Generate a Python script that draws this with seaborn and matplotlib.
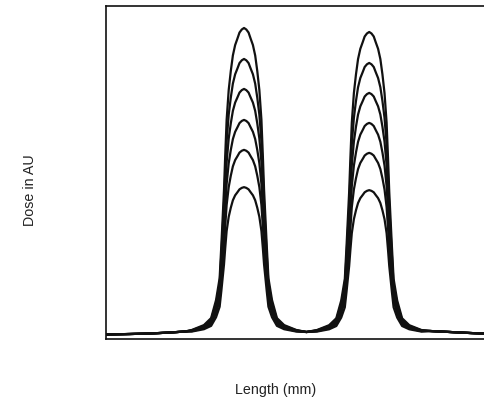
import numpy as np
import pandas as pd
import matplotlib
matplotlib.use("Agg")
import matplotlib.pyplot as plt
import seaborn as sns

# ---- data (x in mm, dose in AU) ----
# normalised peak profile (half-profile, offset from peak centre in mm -> fraction of peak)
half_offsets = [0.0, 0.6, 1.2, 1.75, 2.35, 2.95, 3.5, 4.05, 4.6, 4.98, 5.3,
                6.0, 6.45, 7.4, 8.7, 10.6, 13.8]
half_fraction = [1.0, 0.995, 0.985, 0.965, 0.944, 0.91, 0.859, 0.797, 0.699, 0.58, 0.469,
                 0.288, 0.180, 0.108, 0.049, 0.026, 0.010]
peak_centres = [36.5, 69.6]
peak_base = 1.8
left_peak_amplitudes = [91.6, 82.3, 73.3, 64.0, 55.0, 43.8]
right_peak_amplitudes = [90.4, 81.1, 72.1, 63.1, 54.1, 42.9]

left_tail_x = [0.0, 6.35, 11.64, 16.93, 20.9]
left_tail_y = [1.35, 1.5, 1.65, 1.95, 2.25]
middle_x = [53.0]
middle_y = [2.1]
right_tail_x = [85.7, 91.0, 96.3, 102.6]
right_tail_y = [2.4, 2.1, 1.8, 1.5]

# ---- build long table ----
offsets = [-o for o in half_offsets[::-1]] + half_offsets[1:]
fractions = half_fraction[::-1] + half_fraction[1:]

rows = []
for k, (a1, a2) in enumerate(zip(left_peak_amplitudes, right_peak_amplitudes)):
    xs, ys = [], []
    xs += left_tail_x; ys += left_tail_y
    xs += [peak_centres[0] + o for o in offsets]
    ys += [peak_base + a1 * f for f in fractions]
    xs += middle_x; ys += middle_y
    xs += [peak_centres[1] + o for o in offsets]
    ys += [peak_base + a2 * f for f in fractions]
    xs += right_tail_x; ys += right_tail_y
    for i, (x, y) in enumerate(zip(xs, ys)):
        rows.append({"curve": f"c{k}", "order": i, "Length": x, "Dose": y})
df = pd.DataFrame(rows)

sns.set_style("white")
plt.rcParams["font.family"] = ["Liberation Sans", "DejaVu Sans"]

fig = plt.figure(figsize=(4.84, 3.99), dpi=100)
ax = fig.add_axes([106 / 484, 60 / 399, 388 / 484, 333 / 399])

sns.lineplot(data=df, x="Length", y="Dose", hue="curve", units="curve",
             estimator=None, sort=False, palette=["#111111"] * 6,
             linewidth=1.6, legend=False, ax=ax)

ax.set_xlim(0, 102.6)
ax.set_ylim(0, 100)
ax.set_xticks([])
ax.set_yticks([])
ax.set_xlabel("")
ax.set_ylabel("")
for s in ["left", "top", "bottom", "right"]:
    ax.spines[s].set_color("#111111")
    ax.spines[s].set_linewidth(1.2)

fig.text(276 / 484, 1 - 390 / 399, "Length (mm)", ha="center", va="center",
         fontsize=10.3, color="#222222")
fig.text(30 / 484, 1 - 190 / 399, "Dose in AU", ha="center", va="center",
         rotation=90, fontsize=10.3, color="#222222")

fig.savefig("out.png", dpi=100, facecolor="white")
